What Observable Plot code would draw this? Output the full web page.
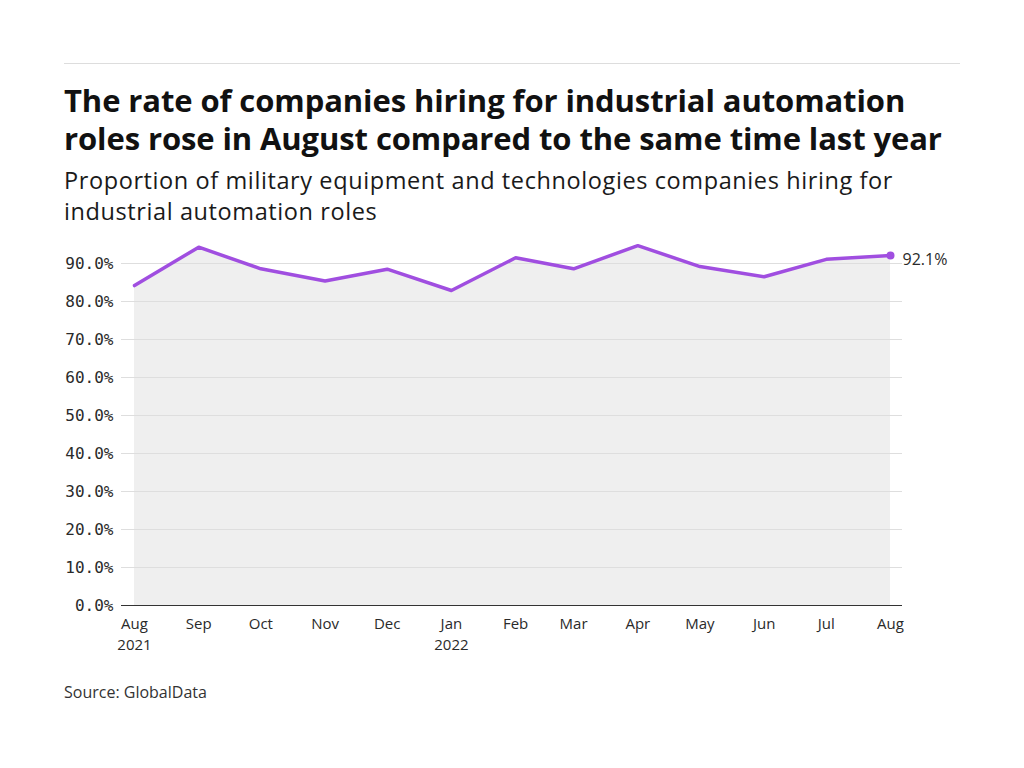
<!DOCTYPE html>
<html>
<head>
<meta charset="utf-8">
<script src="https://cdn.jsdelivr.net/npm/d3@7"></script>
<script src="https://cdn.jsdelivr.net/npm/@observablehq/plot@0.6"></script>
<style>
  html, body { margin: 0; padding: 0; background: #fff; }
  body { width: 1024px; height: 768px; position: relative; font-family: "Open Sans", "Noto Sans", sans-serif; color: #111; }
  #rule { position: absolute; left: 64px; top: 63px; width: 896px; height: 0; border-top: 1.5px solid #ddd; }
  #title { position: absolute; left: 64px; top: 81px; width: 940px; font-size: 31px; font-weight: 700; line-height: 38px; letter-spacing: -0.1px; white-space: nowrap; }
  #subtitle { position: absolute; left: 64px; top: 165px; width: 940px; font-size: 23.5px; font-weight: 400; line-height: 31px; letter-spacing: 0.6px; color: #1a1a1a; white-space: nowrap; }
  #chart { position: absolute; left: 64px; top: 215px; }
  #source { position: absolute; left: 64px; top: 681px; font-size: 16px; color: #333; }
</style>
</head>
<body>
<div id="rule"></div>
<div id="title">The rate of companies hiring for industrial automation<br>roles rose in August compared to the same time last year</div>
<div id="subtitle">Proportion of military equipment and technologies companies hiring for<br>industrial automation roles</div>
<div id="chart"></div>
<div id="source">Source: GlobalData</div>
<script>
const months = ["2021-08","2021-09","2021-10","2021-11","2021-12","2022-01","2022-02","2022-03","2022-04","2022-05","2022-06","2022-07","2022-08"];
const values = [84.2, 94.3, 88.6, 85.4, 88.5, 82.9, 91.5, 88.6, 94.7, 89.2, 86.5, 91.1, 92.1];
const yTicks = [0, 10, 20, 30, 40, 50, 60, 70, 80, 90];
const monthNames = ["Jan","Feb","Mar","Apr","May","Jun","Jul","Aug","Sep","Oct","Nov","Dec"];

const data = months.map((m, i) => ({date: new Date(m + "-01T00:00:00Z"), value: values[i]}));
const dates = data.map(d => d.date);
const last = data[data.length - 1];

const chart = Plot.plot({
  width: 896,
  height: 450,
  marginLeft: 57,
  marginRight: 58,
  marginTop: 10,
  marginBottom: 60,
  style: {fontFamily: "'Open Sans', 'Noto Sans', sans-serif", fontSize: "15px", color: "#333", background: "transparent"},
  x: {type: "utc", domain: [dates[0], dates[dates.length - 1]], insetLeft: 13, insetRight: 12},
  y: {domain: [0, 100]},
  marks: [
    Plot.areaY(data, {x: "date", y: "value", fill: "#efefef"}),
    Plot.ruleY(yTicks.filter(t => t > 0), {stroke: "#dedede", strokeWidth: 1}),
    Plot.axisY({ticks: yTicks, tickSize: 0, tickPadding: 8, tickFormat: d => d.toFixed(1) + "%", label: null,
      fontFamily: "'DejaVu Sans Mono', monospace", fontSize: 16, fill: "#2a2a2a"}),
    Plot.axisX({ticks: dates, tickSize: 0, tickPadding: 9, label: null, fontSize: 15, fill: "#2a2a2a", lineHeight: 1.4,
      tickFormat: (d, i) => {
        const m = d.getUTCMonth();
        return monthNames[m] + ((i === 0 || m === 0) ? "\n" + d.getUTCFullYear() : "");
      }}),
    Plot.ruleY([0], {stroke: "#333", strokeWidth: 1.2}),
    Plot.line(data, {x: "date", y: "value", stroke: "#a04ee0", strokeWidth: 3.5, strokeLinejoin: "round", strokeLinecap: "round"}),
    Plot.dot([last], {x: "date", y: "value", r: 4, fill: "#a04ee0", stroke: null}),
    Plot.text([last], {x: "date", y: "value", text: d => d.value.toFixed(1) + "%", dx: 12, dy: 4, textAnchor: "start", fontSize: 16, fill: "#2a2a2a"})
  ]
});
document.getElementById("chart").appendChild(chart);
</script>
</body>
</html>
